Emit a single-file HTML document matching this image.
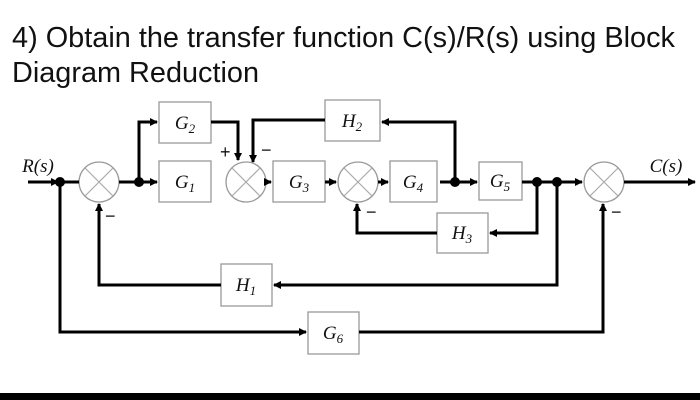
<!DOCTYPE html>
<html><head><meta charset="utf-8"><style>
html,body{margin:0;padding:0;background:#fff;}
svg{display:block}
</style></head><body>
<svg width="700" height="400" viewBox="0 0 700 400" xmlns="http://www.w3.org/2000/svg">
<defs>
<marker id="a" markerWidth="8" markerHeight="8" refX="7" refY="4" orient="auto" markerUnits="userSpaceOnUse">
<path d="M0,0 L8,4 L0,8 z" fill="#000"/></marker>
</defs>
<text x="12" y="47" font-family="Liberation Sans, sans-serif" font-size="29" fill="#111" textLength="663" lengthAdjust="spacingAndGlyphs">4) Obtain the transfer function C(s)/R(s) using Block</text>
<text x="12" y="82" font-family="Liberation Sans, sans-serif" font-size="29" fill="#111" textLength="247" lengthAdjust="spacingAndGlyphs">Diagram Reduction</text>

<g fill="#fff" stroke="#999" stroke-width="1.3">
<rect x="159" y="102" width="52" height="41"/>
<rect x="159" y="161" width="52" height="41"/>
<rect x="273" y="161" width="52" height="41"/>
<rect x="325" y="100" width="55" height="41"/>
<rect x="390" y="161" width="47" height="41"/>
<rect x="479" y="162" width="43" height="38"/>
<rect x="437" y="213" width="51" height="40"/>
<rect x="221" y="264" width="51" height="42"/>
<rect x="308" y="312" width="51" height="42"/>
<circle cx="99" cy="182" r="20"/>
<circle cx="246" cy="182" r="20"/>
<circle cx="358" cy="182" r="20"/>
<circle cx="604" cy="182" r="20"/>
</g>
<g stroke="#aaa" stroke-width="1.2">
<path d="M85,168 L113,196 M113,168 L85,196"/>
<path d="M232,168 L260,196 M260,168 L232,196"/>
<path d="M344,168 L372,196 M372,168 L344,196"/>
<path d="M590,168 L618,196 M618,168 L590,196"/>
</g>
<g stroke="#000" stroke-width="3" fill="none">
<path d="M28,182 H58" marker-end="url(#a)"/>
<path d="M60,182 H79"/>
<path d="M119,182 H157" marker-end="url(#a)"/>
<path d="M139,182 V122 H157" marker-end="url(#a)"/>
<path d="M211,122 H238 V160" marker-end="url(#a)"/>
<path d="M325,120 H253 V162" marker-end="url(#a)"/>
<path d="M266,182 H271" marker-end="url(#a)"/>
<path d="M325,182 H336" marker-end="url(#a)"/>
<path d="M378,182 H388" marker-end="url(#a)"/>
<path d="M440,182 H477" marker-end="url(#a)"/>
<path d="M455,182 V122 H382" marker-end="url(#a)"/>
<path d="M522,182 H582" marker-end="url(#a)"/>
<path d="M624,182 H695" marker-end="url(#a)"/>
<path d="M537,182 V233 H490" marker-end="url(#a)"/>
<path d="M437,233 H357 V204" marker-end="url(#a)"/>
<path d="M557,182 V285 H274" marker-end="url(#a)"/>
<path d="M221,285 H99 V204" marker-end="url(#a)"/>
<path d="M60,182 V332 H306" marker-end="url(#a)"/>
<path d="M359,332 H603 V204" marker-end="url(#a)"/>
</g>
<g fill="#000">
<circle cx="60" cy="182" r="5"/><circle cx="139" cy="182" r="5"/>
<circle cx="455" cy="182" r="5"/><circle cx="537" cy="182" r="5"/><circle cx="557" cy="182" r="5"/>
</g>
<g font-family="Liberation Serif, serif" font-style="italic" font-size="19" fill="#111" text-anchor="middle">
<text x="185" y="129">G<tspan font-size="13" dy="4">2</tspan></text>
<text x="185" y="188">G<tspan font-size="13" dy="4">1</tspan></text>
<text x="299" y="188">G<tspan font-size="13" dy="4">3</tspan></text>
<text x="352" y="127">H<tspan font-size="13" dy="4">2</tspan></text>
<text x="413" y="188">G<tspan font-size="13" dy="4">4</tspan></text>
<text x="500" y="187">G<tspan font-size="13" dy="4">5</tspan></text>
<text x="462" y="239">H<tspan font-size="13" dy="4">3</tspan></text>
<text x="246" y="291">H<tspan font-size="13" dy="4">1</tspan></text>
<text x="333" y="339">G<tspan font-size="13" dy="4">6</tspan></text>
<text x="38" y="172">R(s)</text>
<text x="666" y="172">C(s)</text>
</g>
<g font-family="Liberation Sans, sans-serif" font-size="18" fill="#111">
<text x="220" y="158">+</text>
<text x="261" y="156">−</text>
<text x="105" y="222">−</text>
<text x="366" y="218">−</text>
<text x="611" y="218">−</text>
</g>
<rect x="0" y="393" width="700" height="7" fill="#000"/>
</svg>
</body></html>
